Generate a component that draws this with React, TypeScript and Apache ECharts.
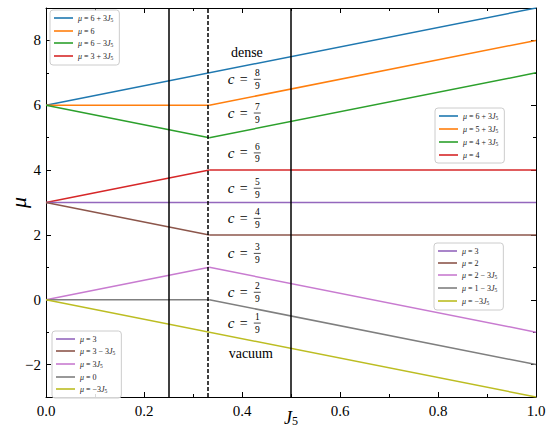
import React, { useEffect, useRef } from "react";
import * as echarts from "echarts";

// ---- data ----
const J_FULL = [0, 1];
const J_LEFT = [0, 1 / 3];
const J_RIGHT = [1 / 3, 1];

const MU_6P3J = [6, 9];
const MU_6 = [6, 6];
const MU_6M3J = [6, 5];
const MU_3P3J = [3, 4];
const MU_3 = [3, 3];
const MU_3M3J = [3, 2];
const MU_3J = [0, 1];
const MU_0 = [0, 0];
const MU_M3J = [0, -3];
const MU_5P3J = [6, 8];
const MU_4P3J = [5, 7];
const MU_4 = [4, 4];
const MU_2 = [2, 2];
const MU_2M3J = [1, -1];
const MU_1M3J = [0, -2];

const Y_MAJOR = [-2, 0, 2, 4, 6, 8];
const V_LINES = [0.25, 1 / 3, 0.5];
const V_DASHED = [false, true, false];

const ANN_X = [0.41, 0.371, 0.371, 0.371, 0.371, 0.371, 0.371, 0.371, 0.371, 0.418];
const ANN_Y = [7.64, 6.8, 5.76, 4.53, 3.44, 2.51, 1.43, 0.23, -0.72, -1.65];
const ANN_LABELS = ["dense", "8/9", "7/9", "6/9", "5/9", "4/9", "3/9", "2/9", "1/9", "vacuum"];

const C = {
  blue: "#1f78b0",
  orange: "#ff7f0e",
  green: "#2ca02c",
  red: "#d62728",
  purple: "#9467bd",
  brown: "#8c564b",
  pink: "#c87bd0",
  gray: "#7f7f7f",
  olive: "#bcbd22",
};

const SERIES_DEF: [string, number[], number[], string][] = [
  ["μ = 6 + 3J5", J_FULL, MU_6P3J, C.blue],
  ["μ = 6", J_LEFT, MU_6, C.orange],
  ["μ = 6 − 3J5", J_LEFT, MU_6M3J, C.green],
  ["μ = 3 + 3J5", J_LEFT, MU_3P3J, C.red],
  ["μ = 3", J_FULL, MU_3, C.purple],
  ["μ = 3 − 3J5", J_LEFT, MU_3M3J, C.brown],
  ["μ = 3J5", J_LEFT, MU_3J, C.pink],
  ["μ = 0", J_LEFT, MU_0, C.gray],
  ["μ = −3J5", J_FULL, MU_M3J, C.olive],
  ["μ = 5 + 3J5", J_RIGHT, MU_5P3J, C.orange],
  ["μ = 4 + 3J5", J_RIGHT, MU_4P3J, C.green],
  ["μ = 4", J_RIGHT, MU_4, C.red],
  ["μ = 2", J_RIGHT, MU_2, C.brown],
  ["μ = 2 − 3J5", J_RIGHT, MU_2M3J, C.pink],
  ["μ = 1 − 3J5", J_RIGHT, MU_1M3J, C.gray],
];

const LEG1 = ["μ = 6 + 3J5", "μ = 6", "μ = 6 − 3J5", "μ = 3 + 3J5"];
const LEG2 = ["μ = 6 + 3J5", "μ = 5 + 3J5", "μ = 4 + 3J5", "μ = 4"];
const LEG3 = ["μ = 3", "μ = 2", "μ = 2 − 3J5", "μ = 1 − 3J5", "μ = −3J5"];
const LEG4 = ["μ = 3", "μ = 3 − 3J5", "μ = 3J5", "μ = 0", "μ = −3J5"];

const SERIF = "'Liberation Serif', 'DejaVu Serif', serif";

const toRich = (name: string) =>
  name.replace("μ", "{i|μ}").replace(/J5/g, "{i|J}{s|5}");

const legendBase = (data: string[], left: number, top: number) => ({
  data,
  left,
  top,
  orient: "vertical",
  icon: "rect",
  itemWidth: 19,
  itemHeight: 1.6,
  itemGap: 4,
  padding: [4, 6, 4, 4],
  borderColor: "#cccccc",
  borderWidth: 1,
  borderRadius: 3,
  backgroundColor: "rgba(255,255,255,0.85)",
  selectedMode: false,
  formatter: toRich,
  textStyle: {
    fontFamily: SERIF,
    fontSize: 8,
    color: "#222",
    lineHeight: 8,
    padding: [0, 0, 0, 0],
    rich: {
      i: { fontFamily: SERIF, fontStyle: "italic", fontSize: 8, color: "#222" },
      s: { fontFamily: SERIF, fontSize: 5.5, color: "#222", padding: [4, 0, 0, 0] },
    },
  },
});

export default function App() {
  const ref = useRef<HTMLDivElement>(null);
  useEffect(() => {
    if (!ref.current) return;
    document.body.style.margin = "0";
    const chart = echarts.init(ref.current, undefined, { renderer: "svg" });

    const lineSeries = SERIES_DEF.map(([name, xs, ys, color], k) => ({
      name,
      type: "line",
      data: xs.map((x, i) => [x, ys[i]]),
      symbol: "none",
      lineStyle: { color, width: 1.5 },
      itemStyle: { color },
      z: 3,
      ...(k === 0
        ? {
            markLine: {
              silent: true,
              symbol: "none",
              label: { show: false },
              data: V_LINES.map((v, i) => ({
                xAxis: v,
                lineStyle: {
                  color: "#000",
                  width: 1.5,
                  type: V_DASHED[i] ? [4, 2] : "solid",
                },
              })),
            },
          }
        : {}),
    }));

    const annSeries = {
      type: "custom",
      name: "annotations",
      silent: true,
      z: 5,
      data: ANN_X.map((x, i) => [x, ANN_Y[i]]),
      renderItem: (params: any, api: any) => {
        const idx = params.dataIndex;
        const p = api.coord([api.value(0), api.value(1)]);
        const lab = ANN_LABELS[idx];
        if (lab.indexOf("/") < 0) {
          return {
            type: "text",
            x: p[0],
            y: p[1],
            style: {
              text: lab,
              font: `14px ${SERIF}`,
              fill: "#000",
              align: "center",
              verticalAlign: "middle",
            },
          };
        }
        const [n, d] = lab.split("/");
        return {
          type: "group",
          x: p[0],
          y: p[1],
          children: [
            {
              type: "text",
              x: 0,
              y: 0,
              style: { text: "c", font: `italic 15px ${SERIF}`, fill: "#000", align: "left", verticalAlign: "middle" },
            },
            {
              type: "text",
              x: 12,
              y: 0,
              style: { text: "=", font: `14px ${SERIF}`, fill: "#000", align: "left", verticalAlign: "middle" },
            },
            {
              type: "text",
              x: 29.5,
              y: -6,
              style: { text: n, font: `9.5px ${SERIF}`, fill: "#000", align: "center", verticalAlign: "middle" },
            },
            {
              type: "line",
              shape: { x1: 26, y1: 0, x2: 33, y2: 0 },
              style: { stroke: "#000", lineWidth: 0.7 },
            },
            {
              type: "text",
              x: 29.5,
              y: 6.5,
              style: { text: d, font: `9.5px ${SERIF}`, fill: "#000", align: "center", verticalAlign: "middle" },
            },
          ],
        };
      },
    };

    chart.setOption({
      animation: false,
      backgroundColor: "#fff",
      grid: { left: 46, right: 14, top: 8, bottom: 33, containLabel: false, outerBoundsMode: "none" },
      xAxis: [
        {
          type: "value",
          position: "bottom",
          min: 0,
          max: 1,
          interval: 0.2,
          name: "{i|J}{s|5}",
          nameLocation: "middle",
          nameGap: 11,
          nameMoveOverlap: false,
          nameTextStyle: {
            rich: {
              i: { fontFamily: SERIF, fontStyle: "italic", fontSize: 18, color: "#000" },
              s: { fontFamily: SERIF, fontSize: 12, color: "#000", padding: [7, 0, 0, 0] },
            },
          },
          axisLine: { show: true, onZero: false, lineStyle: { color: "#000", width: 1 } },
          axisTick: { show: true, inside: true, length: 5, lineStyle: { color: "#000" } },
          minorTick: { show: true, splitNumber: 2, length: 3, lineStyle: { color: "#000" } },
          axisLabel: {
            margin: 6,
            fontFamily: SERIF,
            fontSize: 15,
            color: "#000",
            formatter: (v: number) => v.toFixed(1),
          },
          splitLine: { show: false },
        },
        {
          type: "value",
          position: "top",
          min: 0,
          max: 1,
          interval: 0.2,
          axisLine: { show: true, onZero: false, lineStyle: { color: "#000", width: 1 } },
          axisTick: { show: true, inside: true, length: 5, lineStyle: { color: "#000" } },
          minorTick: { show: true, splitNumber: 2, length: 3, lineStyle: { color: "#000" } },
          axisLabel: { show: false },
          splitLine: { show: false },
        },
      ],
      yAxis: [
        {
          type: "value",
          position: "left",
          min: -3,
          max: 9,
          interval: 1,
          name: "μ",
          nameLocation: "middle",
          nameGap: 17,
          nameMoveOverlap: false,
          nameRotate: 90,
          nameTextStyle: { fontFamily: SERIF, fontStyle: "italic", fontSize: 22, color: "#000" },
          axisLine: { show: true, onZero: false, lineStyle: { color: "#000", width: 1 } },
          axisTick: { show: true, inside: true, length: 5, customValues: Y_MAJOR, lineStyle: { color: "#000" } },
          axisLabel: {
            margin: 5,
            fontFamily: SERIF,
            fontSize: 15,
            color: "#000",
            customValues: Y_MAJOR,
            formatter: (v: number) => String(v).replace("-", "−"),
          },
          splitLine: { show: false },
        },
        {
          type: "value",
          position: "left",
          offset: 0,
          min: -3,
          max: 9,
          interval: 1,
          axisLine: { show: false, onZero: false },
          axisTick: { show: true, inside: true, length: 3, lineStyle: { color: "#000" } },
          axisLabel: { show: false },
          splitLine: { show: false },
        },
        {
          type: "value",
          position: "right",
          offset: 0,
          min: -3,
          max: 9,
          interval: 1,
          axisLine: { show: true, onZero: false, lineStyle: { color: "#000", width: 1 } },
          axisTick: { show: true, inside: true, length: 5, customValues: Y_MAJOR, lineStyle: { color: "#000" } },
          axisLabel: { show: false },
          splitLine: { show: false },
        },
        {
          type: "value",
          position: "right",
          offset: 0,
          min: -3,
          max: 9,
          interval: 1,
          axisLine: { show: false, onZero: false },
          axisTick: { show: true, inside: true, length: 3, lineStyle: { color: "#000" } },
          axisLabel: { show: false },
          splitLine: { show: false },
        },
      ],
      legend: [
        legendBase(LEG1, 50, 10),
        legendBase(LEG2, 435, 108),
        legendBase(LEG3, 434, 243),
        legendBase(LEG4, 52, 331),
      ],
      series: [...lineSeries, annSeries],
    });
    return () => chart.dispose();
  }, []);
  return (
    <div
      ref={ref}
      style={{ position: "absolute", left: 0, top: 0, width: 550, height: 430 }}
    />
  );
}
